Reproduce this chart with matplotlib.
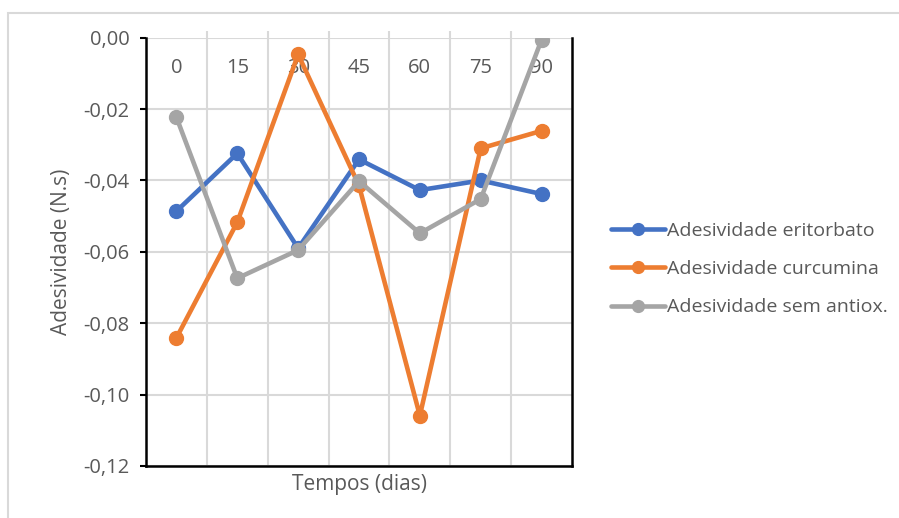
import numpy as np
import matplotlib.pyplot as plt
from matplotlib.patches import Rectangle

# Dados
tempos = ["0", "15", "30", "45", "60", "75", "90"]
eritorbato = [-0.0486, -0.0324, -0.0590, -0.0341, -0.0427, -0.0400, -0.0438]
curcumina = [-0.0841, -0.0517, -0.0047, -0.0414, -0.1059, -0.0310, -0.0261]
sem_antiox = [-0.0223, -0.0674, -0.0595, -0.0402, -0.0548, -0.0452, -0.0006]

series = [
    ("Adesividade eritorbato", eritorbato, "#4472C4"),
    ("Adesividade curcumina", curcumina, "#ED7D31"),
    ("Adesividade sem antiox.", sem_antiox, "#A5A5A5"),
]

plt.rcParams["font.family"] = ["Open Sans", "DejaVu Sans"]
txt = "#595959"
grid = "#D9D9D9"
fs = 14.5

W, H = 899, 518
fig = plt.figure(figsize=(W / 100, H / 100), dpi=100)
ax = fig.add_axes([146 / W, 1 - 466 / H, (572 - 146) / W, (466 - 37.7) / H])

# moldura do gráfico
fig.patches.append(Rectangle((8 / W, -0.1), 1.2, 1 - 13 / H + 0.1,
                             transform=fig.transFigure, fill=False,
                             edgecolor=grid, lw=1.5))

x = np.arange(len(tempos))
for nome, vals, cor in series:
    ax.plot(x, vals, color=cor, lw=3.3, marker="o", ms=10, label=nome,
            solid_capstyle="round", zorder=3)

ax.set_xlim(-0.5, len(tempos) - 0.5)
ax.set_ylim(-0.12, 0)
ax.set_yticks(np.arange(-0.12, 0.001, 0.02))
ax.yaxis.set_major_formatter(lambda v, p: f"{v:.2f}".replace(".", ",").replace("-0,00", "0,00"))

# rótulos das categorias no eixo em y = 0
ax.set_xticks(x)
ax.set_xticklabels(tempos)
ax.set_xticks(np.arange(0.5, len(tempos) - 0.5, 1), minor=True)
ax.xaxis.set_ticks_position("top")
ax.tick_params(axis="x", which="major", length=0, pad=-29, labelsize=fs,
               labelcolor=txt)
ax.tick_params(axis="x", which="minor", length=5, width=1.5, color=grid)
ax.grid(axis="x", which="minor", color=grid, lw=1.5, zorder=0)
ax.grid(axis="y", which="major", color=grid, lw=1.5, zorder=0)
ax.tick_params(axis="y", length=4, width=1.5, color="black", labelsize=fs,
               labelcolor=txt, pad=8)

for s in ["left", "bottom", "right"]:
    ax.spines[s].set_color("black")
    ax.spines[s].set_linewidth(1.8)
ax.spines["top"].set_visible(False)
ax.set_axisbelow(True)

ax.set_ylabel("Adesividade (N.s)", fontsize=15, color=txt, labelpad=8)
ax.set_xlabel("Tempos (dias)", fontsize=15, color=txt)
ax.xaxis.set_label_position("bottom")
ax.xaxis.labelpad = 6

fig.legend(loc="center left", bbox_to_anchor=(593 / W, 1 - 269 / H),
           frameon=False, fontsize=14, labelcolor=txt, handlelength=2.8,
           handletextpad=0.1, labelspacing=1.05, markerscale=0.85)

fig.savefig("out.png", dpi=100)
